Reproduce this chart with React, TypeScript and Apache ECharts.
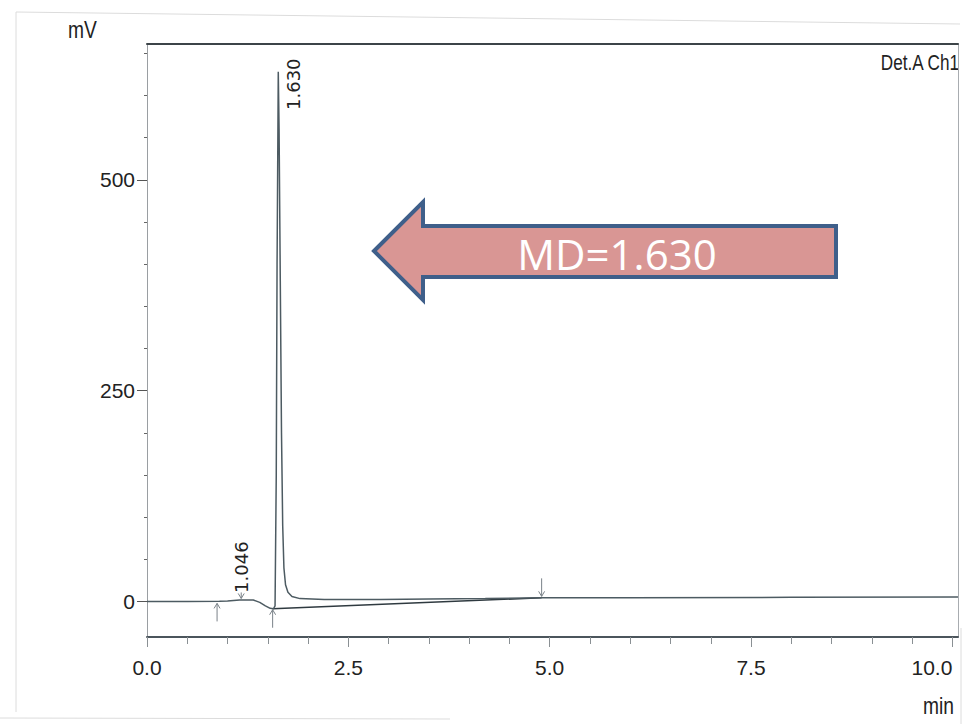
import React, { useEffect, useRef } from "react";
import * as echarts from "echarts";

// Chromatogram signal (time in min, response in mV)
const times = [0, 0.5, 0.9, 1.0, 1.15, 1.32, 1.4, 1.47, 1.53, 1.57, 1.59, 1.605, 1.615, 1.63, 1.64, 1.655, 1.67, 1.685, 1.7, 1.72, 1.75, 1.8, 1.9, 2.2, 2.9, 3.5, 4.2, 4.9, 6.0, 8.0, 10.07];
const signal = [0, 0, 0.3, 0.8, 1.8, 1.8, -1, -5, -8, -8.5, -5, 150, 400, 628, 560, 380, 200, 90, 40, 20, 11, 6, 3.5, 2.5, 2.5, 3, 3.5, 4.5, 4.5, 5, 5.5];

// Integration baseline drawn under the main peak
const baseTimes = [1.56, 4.9];
const baseValues = [-8.5, 4.5];

// Peak labels (retention times as printed)
const peakTimes = [1.17, 1.63];
const peakHeights = [2, 628];
const peakLabels = ["1.046", "1.630"];

// Integration markers: time, tip value, direction (1 = up, -1 = down)
const markTimes = [0.87, 1.56, 1.17, 4.9];
const markValues = [-1, -8.5, 2.5, 5];
const markDirs = [1, 1, -1, -1];

// Axis ticks
const xLabels = [0, 2.5, 5, 7.5, 10];
const xMinor = [0.5, 1, 1.5, 2, 3, 3.5, 4, 4.5, 5.5, 6, 6.5, 7, 8, 8.5, 9, 9.5];
const yLabels = [0, 250, 500];
const yMinor = [50, 100, 150, 200, 300, 350, 400, 450, 550, 600, 650];

const SANS = '"Liberation Sans", Arial, sans-serif';

export default function App() {
  const ref = useRef<HTMLDivElement>(null);
  useEffect(() => {
    if (!ref.current) return;
    const chart = echarts.init(ref.current, null, { renderer: "svg" });
    const X_MIN = 0, X_MAX = 10.07, Y_MIN = -42, Y_MAX = 661;
    const gridTop = 44;

    const option: any = {
      animation: false,
      backgroundColor: "#ffffff",
      grid: { left: 147, right: 11, top: gridTop, bottom: 87, containLabel: false },
      xAxis: [
        {
          type: "value", position: "bottom", min: X_MIN, max: X_MAX,
          axisLine: { show: true, onZero: false, lineStyle: { color: "#4b555c", width: 2 } },
          axisTick: { show: true, customValues: xLabels, length: 10, lineStyle: { color: "#8a9094", width: 1 } },
          axisLabel: {
            show: true, customValues: xLabels, margin: 20, fontFamily: SANS, fontSize: 21, color: "#222",
            formatter: (v: number) => v.toFixed(1), alignMaxLabel: "right",
          },
          splitLine: { show: false },
        },
        {
          type: "value", position: "bottom", min: X_MIN, max: X_MAX,
          axisLine: { show: false, onZero: false },
          axisTick: { show: true, customValues: xMinor, length: 7, lineStyle: { color: "#8a9094", width: 1 } },
          axisLabel: { show: false },
          splitLine: { show: false },
        },
        {
          type: "value", position: "top", min: X_MIN, max: X_MAX,
          axisLine: { show: true, onZero: false, lineStyle: { color: "#3c4448", width: 2 } },
          axisTick: { show: false }, axisLabel: { show: false }, splitLine: { show: false },
        },
      ],
      yAxis: [
        {
          type: "value", position: "left", min: Y_MIN, max: Y_MAX,
          axisLine: { show: true, onZero: false, lineStyle: { color: "#9a9ea2", width: 1 } },
          axisTick: { show: true, customValues: yLabels, length: 10, lineStyle: { color: "#555", width: 1 } },
          axisLabel: { show: true, customValues: yLabels, margin: 12, fontFamily: SANS, fontSize: 21, color: "#222" },
          splitLine: { show: false },
        },
        {
          type: "value", position: "left", min: Y_MIN, max: Y_MAX,
          axisLine: { show: false, onZero: false },
          axisTick: { show: true, customValues: yMinor, length: 3, lineStyle: { color: "#666", width: 1 } },
          axisLabel: { show: false }, splitLine: { show: false },
        },
        {
          type: "value", position: "right", min: Y_MIN, max: Y_MAX,
          axisLine: { show: true, onZero: false, lineStyle: { color: "#a8acb0", width: 1 } },
          axisTick: { show: false }, axisLabel: { show: false }, splitLine: { show: false },
        },
      ],
      series: [
        {
          type: "line", name: "signal", xAxisIndex: 0, yAxisIndex: 0,
          data: times.map((t, i) => [t, signal[i]]),
          showSymbol: false, symbol: "none",
          lineStyle: { color: "#4d5b62", width: 1.5 },
          z: 3,
        },
        {
          type: "line", name: "baseline", xAxisIndex: 0, yAxisIndex: 0,
          data: baseTimes.map((t, i) => [t, baseValues[i]]),
          showSymbol: false, symbol: "none",
          lineStyle: { color: "#2f3a40", width: 1.5 },
          z: 2,
        },
        {
          type: "custom", name: "markers", xAxisIndex: 0, yAxisIndex: 0,
          data: markTimes.map((t, i) => [t, markValues[i], markDirs[i]]),
          renderItem: (params: any, api: any) => {
            const t = api.value(0);
            const c = api.coord([t, api.value(1)]);
            const dir = api.value(2);
            const labelled = peakTimes.some((p) => Math.abs(p - t) < 1e-6);
            const len = labelled ? 6 : 18;
            const tipY = dir > 0 ? c[1] + 1 : c[1] - 1;
            const tailY = dir > 0 ? tipY + len : tipY - len;
            const headY = dir > 0 ? tipY + 5 : tipY - 5;
            return {
              type: "group",
              children: [
                { type: "line", shape: { x1: c[0], y1: tipY, x2: c[0], y2: tailY }, style: { stroke: "#7a8288", lineWidth: 1 } },
                { type: "polyline", shape: { points: [[c[0] - 3, headY], [c[0], tipY], [c[0] + 3, headY]] }, style: { stroke: "#7a8288", lineWidth: 1, fill: null } },
              ],
            };
          },
          z: 4,
        },
        {
          type: "custom", name: "peak labels", xAxisIndex: 0, yAxisIndex: 0,
          data: peakTimes.map((t, i) => [t, peakHeights[i], i]),
          renderItem: (params: any, api: any) => {
            const c = api.coord([api.value(0), api.value(1)]);
            const idx = api.value(2);
            const startY = Math.max(c[1] - 7, gridTop + 66);
            const dx = startY > c[1] ? 15 : 0;
            return {
              type: "text",
              x: c[0] + dx, y: startY, rotation: Math.PI / 2,
              style: {
                text: peakLabels[idx], fill: "#222",
                font: '18px "DejaVu Sans", sans-serif',
                textAlign: "left", textVerticalAlign: "middle",
              },
            };
          },
          z: 5,
        },
      ],
      graphic: [
        // faint scan border
        { type: "polyline", shape: { points: [[16, 712], [16, 12], [960, 24]] }, style: { stroke: "#dcdcdc", lineWidth: 1, fill: null }, silent: true },
        { type: "line", shape: { x1: 0, y1: 718, x2: 450, y2: 719 }, style: { stroke: "#dcdcdc", lineWidth: 1 }, silent: true },
        { type: "line", shape: { x1: 961, y1: 628, x2: 961, y2: 724 }, style: { stroke: "#dcdcdc", lineWidth: 1 }, silent: true },
        // axis titles
        { type: "text", x: 68, y: 42, scaleX: 0.8, style: { text: "mV", font: `24px ${SANS}`, fill: "#222", textAlign: "left", textVerticalAlign: "bottom" } },
        { type: "text", x: 954, y: 718, scaleX: 0.8, style: { text: "min", font: `24px ${SANS}`, fill: "#222", textAlign: "right", textVerticalAlign: "bottom" } },
        { type: "text", x: 959, y: 73, scaleX: 0.78, style: { text: "Det.A Ch1", font: `22px ${SANS}`, fill: "#222", textAlign: "right", textVerticalAlign: "bottom" } },
        // annotation arrow
        {
          type: "polygon",
          shape: { points: [[374, 251], [423, 202], [423, 226], [836, 226], [836, 277], [423, 277], [423, 300]] },
          style: { fill: "#D99694", stroke: "#3F5F8A", lineWidth: 4, lineJoin: "miter" },
          z: 10,
        },
        {
          type: "text", x: 617, y: 253,
          style: { text: "MD=1.630", font: '42px "Open Sans", "Noto Sans", sans-serif', fill: "#ffffff", textAlign: "center", textVerticalAlign: "middle" },
          z: 11,
        },
      ],
    };
    chart.setOption(option);
    return () => chart.dispose();
  }, []);
  return <div ref={ref} style={{ position: "fixed", left: 0, top: 0, width: 969, height: 724, background: "#fff" }} />;
}
